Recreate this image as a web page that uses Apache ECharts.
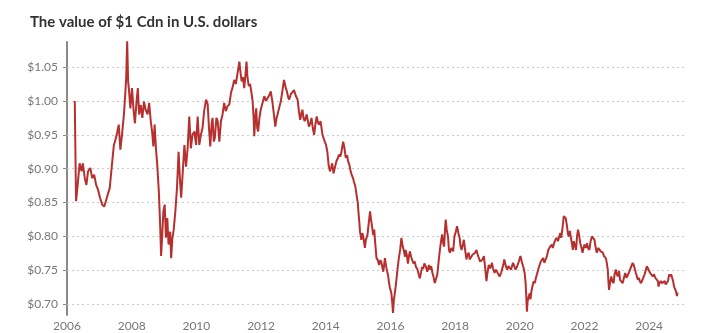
<!DOCTYPE html>
<html>
<head>
<meta charset="utf-8">
<script src="https://cdn.jsdelivr.net/npm/echarts@6/dist/echarts.min.js"></script>
<style>
html,body{margin:0;padding:0;background:#fff;}
#chart{width:707px;height:333px;}
</style>
</head>
<body>
<div id="chart"></div>
<script>
const titleText = "The value of $1 Cdn in U.S. dollars";
const xTicks = [2006, 2008, 2010, 2012, 2014, 2016, 2018, 2020, 2022, 2024];
const yTicks = [0.70, 0.75, 0.80, 0.85, 0.90, 0.95, 1.00, 1.05];

const years = [
2006.24,2006.28,2006.32,2006.39,2006.45,2006.49,2006.55,2006.60,2006.65,2006.72,2006.78,2006.84,2006.90,2006.96,
2007.02,2007.09,2007.15,2007.20,2007.26,2007.32,2007.39,2007.45,2007.50,2007.55,2007.60,2007.65,2007.70,2007.76,2007.80,2007.83,2007.86,2007.89,2007.92,2007.96,
2008.01,2008.06,2008.10,2008.15,2008.19,2008.23,2008.28,2008.33,2008.38,2008.43,2008.49,2008.54,2008.59,2008.63,2008.67,2008.71,2008.75,2008.79,2008.84,2008.88,2008.91,2008.94,2008.98,
2009.02,2009.06,2009.10,2009.14,2009.19,2009.22,2009.26,2009.30,2009.35,2009.40,2009.45,2009.49,2009.53,2009.58,
2009.63,2009.68,2009.73,2009.78,2009.83,2009.88,2009.94,2009.99,
2010.04,2010.09,2010.14,2010.19,2010.24,2010.30,2010.35,2010.39,2010.43,2010.47,2010.50,2010.54,2010.57,2010.62,2010.66,2010.71,2010.76,2010.81,2010.86,2010.91,2010.96,
2011.02,2011.07,2011.12,2011.17,2011.22,2011.27,2011.33,2011.37,2011.40,2011.44,2011.48,2011.52,2011.55,2011.58,2011.62,2011.66,2011.71,2011.74,2011.77,2011.79,2011.82,2011.85,2011.88,2011.91,2011.95,2011.99,
2012.05,2012.10,2012.15,2012.20,2012.25,2012.30,2012.35,2012.41,2012.44,2012.48,2012.51,2012.56,2012.61,2012.66,2012.71,2012.76,2012.80,2012.84,2012.87,2012.92,2012.97,
2013.02,2013.07,2013.13,2013.17,2013.21,2013.25,2013.28,2013.31,2013.35,2013.41,2013.45,2013.48,2013.53,2013.56,2013.60,2013.64,2013.68,2013.72,2013.76,2013.79,2013.84,2013.90,2013.93,2013.97,
2014.01,2014.05,2014.09,2014.13,2014.17,2014.20,2014.24,2014.26,2014.30,2014.33,2014.37,2014.41,2014.45,2014.48,2014.51,2014.54,2014.58,2014.62,2014.66,2014.69,2014.73,2014.77,2014.81,2014.85,2014.87,2014.91,2014.96,2014.99,
2015.01,2015.04,2015.06,2015.10,2015.13,2015.16,2015.19,2015.21,2015.24,2015.29,2015.33,2015.37,2015.40,2015.43,2015.47,2015.50,2015.53,2015.57,2015.61,2015.65,2015.69,2015.72,2015.76,2015.78,2015.81,2015.83,2015.87,2015.90,2015.93,2015.95,2015.98,
2016.03,2016.06,2016.08,2016.11,2016.13,2016.16,2016.19,2016.22,2016.26,2016.30,2016.34,2016.38,2016.42,2016.45,2016.47,2016.51,2016.54,2016.57,2016.60,2016.64,2016.67,2016.71,2016.75,2016.79,2016.83,2016.87,2016.91,2016.95,2016.98,
2017.01,2017.05,2017.10,2017.14,2017.19,2017.22,2017.26,2017.30,2017.34,2017.37,2017.42,2017.45,2017.49,2017.53,2017.57,2017.60,2017.63,2017.66,2017.69,2017.71,2017.74,2017.78,2017.81,2017.84,2017.88,2017.91,2017.94,2017.98,
2018.02,2018.06,2018.10,2018.14,2018.17,2018.20,2018.24,2018.27,2018.31,2018.35,2018.38,2018.42,2018.45,2018.50,2018.54,2018.58,2018.62,2018.66,2018.70,2018.73,2018.77,2018.80,2018.85,2018.89,2018.92,2018.95,2018.97,
2019.00,2019.04,2019.08,2019.11,2019.14,2019.17,2019.22,2019.26,2019.30,2019.34,2019.38,2019.42,2019.45,2019.49,2019.52,2019.57,2019.61,2019.65,2019.69,2019.73,2019.76,2019.79,2019.83,2019.87,2019.92,2019.97,
2020.02,2020.06,2020.09,2020.12,2020.15,2020.18,2020.20,2020.22,2020.24,2020.28,2020.31,2020.33,2020.36,2020.39,2020.43,2020.46,2020.50,2020.53,2020.57,2020.60,2020.65,2020.69,2020.72,2020.76,2020.80,2020.84,2020.88,2020.94,2020.99,
2021.02,2021.06,2021.10,2021.14,2021.18,2021.22,2021.25,2021.28,2021.31,2021.36,2021.39,2021.42,2021.46,2021.49,2021.52,2021.55,2021.58,2021.61,2021.64,2021.67,2021.71,2021.74,2021.77,2021.80,2021.83,2021.87,2021.91,2021.94,2021.97,
2022.00,2022.04,2022.08,2022.11,2022.15,2022.19,2022.23,2022.27,2022.31,2022.34,2022.38,2022.43,2022.46,2022.50,2022.54,2022.57,2022.60,2022.63,2022.66,2022.69,2022.72,2022.74,2022.76,2022.80,2022.83,2022.86,2022.90,2022.93,2022.97,
2023.00,2023.03,2023.07,2023.10,2023.15,2023.18,2023.22,2023.26,2023.30,2023.33,2023.37,2023.41,2023.45,2023.49,2023.52,2023.55,2023.59,2023.62,2023.65,2023.68,2023.71,2023.75,2023.79,2023.82,2023.86,2023.90,2023.93,2023.96,
2024.00,2024.03,2024.07,2024.11,2024.15,2024.19,2024.24,2024.27,2024.29,2024.32,2024.36,2024.40,2024.44,2024.48,2024.51,2024.54,2024.58,2024.62,2024.65,2024.68,2024.71,2024.74,2024.77,2024.80,2024.83,2024.86,2024.88
];

const cad = [
1.000,0.852,0.871,0.908,0.896,0.908,0.886,0.876,0.896,0.901,0.886,0.891,0.876,0.869,
0.857,0.847,0.844,0.852,0.862,0.871,0.906,0.935,0.943,0.953,0.965,0.928,0.950,0.980,1.009,1.034,1.088,1.029,1.014,0.989,
1.019,0.985,0.967,0.999,1.019,0.980,0.994,0.975,0.999,0.987,0.980,0.997,0.970,0.955,0.933,0.965,0.930,0.906,0.866,0.817,0.771,0.798,0.837,
0.847,0.798,0.827,0.788,0.807,0.768,0.798,0.810,0.837,0.871,0.925,0.886,0.857,0.896,
0.935,0.903,0.930,0.977,0.930,0.950,0.955,0.935,
0.977,0.935,0.950,0.960,0.985,1.002,0.995,0.960,0.933,0.965,0.975,0.940,0.945,0.975,0.970,0.940,0.970,0.980,0.997,0.985,0.992,
0.995,1.012,1.020,1.031,1.025,1.040,1.058,1.040,1.029,1.035,1.019,1.040,1.058,1.035,1.022,1.025,1.010,0.999,0.975,0.948,0.975,0.989,0.960,0.955,0.975,0.987,
0.985,1.007,1.000,1.002,1.008,1.014,0.999,0.975,0.962,0.975,0.980,0.990,0.999,1.015,1.031,1.020,1.014,1.005,1.002,1.010,1.013,
1.016,1.008,1.002,0.985,0.972,0.982,0.987,0.975,0.970,0.980,0.970,0.962,0.968,0.975,0.960,0.950,0.965,0.977,0.968,0.965,0.970,0.950,0.948,0.940,
0.935,0.925,0.905,0.896,0.902,0.908,0.893,0.891,0.905,0.911,0.915,0.921,0.918,0.923,0.932,0.940,0.930,0.916,0.920,0.911,0.906,0.896,0.890,0.885,0.881,0.875,0.859,0.850,
0.837,0.820,0.807,0.795,0.805,0.800,0.790,0.783,0.795,0.802,0.820,0.837,0.825,0.815,0.802,0.810,0.790,0.768,0.765,0.758,0.765,0.762,0.752,0.748,0.760,0.768,0.755,0.748,0.742,0.734,0.725,
0.716,0.700,0.687,0.708,0.714,0.725,0.738,0.752,0.768,0.780,0.798,0.785,0.778,0.770,0.780,0.772,0.760,0.770,0.778,0.770,0.768,0.760,0.763,0.755,0.752,0.745,0.738,0.748,0.755,
0.752,0.760,0.755,0.748,0.758,0.751,0.756,0.746,0.739,0.731,0.739,0.744,0.763,0.780,0.795,0.803,0.790,0.785,0.812,0.825,0.810,0.800,0.780,0.776,0.783,0.785,0.778,0.800,
0.807,0.815,0.805,0.798,0.785,0.780,0.788,0.795,0.780,0.766,0.773,0.776,0.766,0.766,0.773,0.771,0.776,0.780,0.773,0.771,0.763,0.761,0.766,0.771,0.758,0.744,0.734,
0.746,0.758,0.753,0.756,0.761,0.753,0.746,0.751,0.749,0.744,0.741,0.746,0.744,0.758,0.766,0.756,0.751,0.756,0.758,0.751,0.753,0.761,0.756,0.751,0.756,0.763,
0.771,0.763,0.758,0.753,0.746,0.731,0.712,0.689,0.704,0.712,0.716,0.707,0.719,0.726,0.734,0.731,0.739,0.744,0.751,0.756,0.763,0.761,0.768,0.761,0.766,0.771,0.780,0.785,0.788,
0.783,0.790,0.795,0.798,0.793,0.800,0.805,0.798,0.808,0.830,0.832,0.827,0.815,0.803,0.800,0.808,0.798,0.790,0.780,0.793,0.795,0.780,0.800,0.810,0.803,0.790,0.783,0.776,0.783,
0.788,0.783,0.790,0.783,0.780,0.793,0.800,0.798,0.795,0.785,0.776,0.783,0.785,0.778,0.780,0.776,0.771,0.773,0.768,0.761,0.751,0.734,0.721,0.734,0.741,0.734,0.731,0.744,0.751,
0.744,0.741,0.749,0.736,0.734,0.731,0.739,0.746,0.739,0.741,0.746,0.751,0.756,0.761,0.758,0.753,0.746,0.741,0.736,0.739,0.734,0.731,0.736,0.734,0.744,0.751,0.756,0.756,
0.749,0.746,0.744,0.741,0.744,0.739,0.739,0.734,0.726,0.731,0.734,0.731,0.731,0.734,0.729,0.729,0.734,0.744,0.741,0.744,0.739,0.734,0.726,0.724,0.719,0.712,0.717
];

const seriesData = years.map((y, i) => [y, cad[i]]);

const chart = echarts.init(document.getElementById('chart'), null, {renderer: 'canvas'});
const fontFam = 'Lato, "Open Sans", sans-serif';
chart.setOption({
  animation: false,
  backgroundColor: '#fff',
  title: {
    text: titleText,
    left: 25, top: 10,
    textStyle: {fontFamily: fontFam, fontWeight: 'bold', fontSize: 15, color: '#333'}
  },
  grid: {left: 67, right: 20, top: 42, bottom: 18, containLabel: false},
  xAxis: {
    type: 'value', min: 2006, max: 2025.17,
    axisLine: {show: false},
    axisTick: {show: false},
    splitLine: {show: false},
    axisLabel: {
      customValues: xTicks,
      color: '#777', fontFamily: fontFam, fontSize: 12, margin: 5,
      formatter: v => String(Math.round(v))
    }
  },
  yAxis: {
    type: 'value', min: 0.684, max: 1.087,
    axisLine: {show: true, lineStyle: {color: '#8a8a8a', width: 2}},
    axisTick: {show: true, customValues: yTicks, length: 4, lineStyle: {color: '#8a8a8a', width: 1}},
    splitLine: {show: false},
    axisLabel: {
      customValues: yTicks,
      color: '#777', fontFamily: fontFam, fontSize: 12, margin: 9,
      formatter: v => '$' + v.toFixed(2)
    }
  },
  series: [{
    type: 'line',
    data: seriesData,
    showSymbol: false,
    symbol: 'none',
    lineStyle: {color: '#b5302e', width: 2},
    z: 3,
    markLine: {
      silent: true,
      symbol: 'none',
      label: {show: false},
      lineStyle: {color: '#c8c8c8', type: [2, 3], width: 1},
      data: yTicks.map(v => ({yAxis: v})),
      z: 1
    }
  }]
});
</script>
</body>
</html>
